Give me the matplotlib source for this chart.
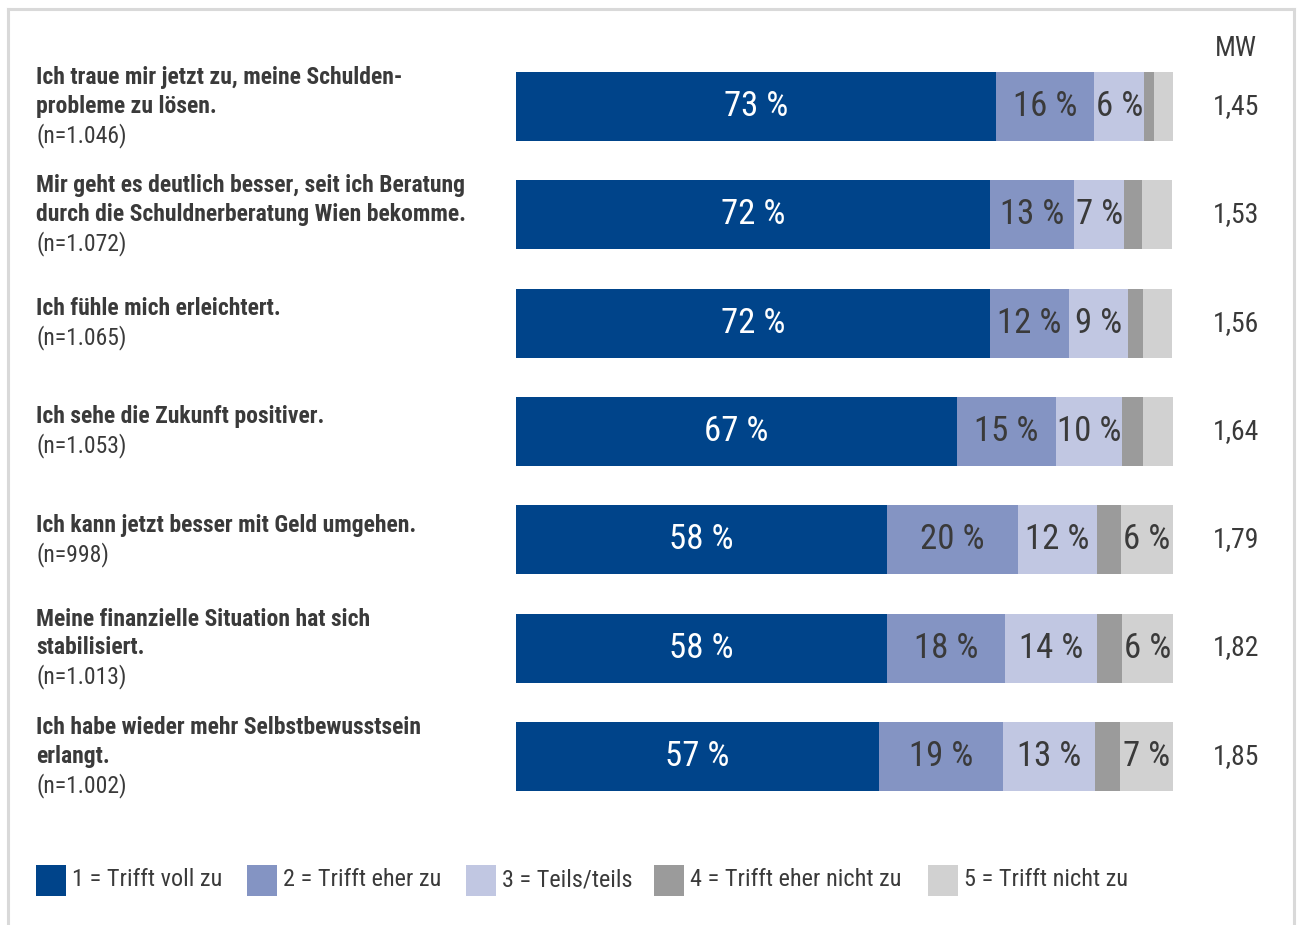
import matplotlib
matplotlib.use("Agg")
import matplotlib.pyplot as plt
from matplotlib.lines import Line2D
from matplotlib.patches import Rectangle

FONT = ['Roboto Condensed', 'Liberation Sans', 'DejaVu Sans']
plt.rcParams['font.family'] = FONT

# ---------------- data ----------------
statements = [
    ["Ich traue mir jetzt zu, meine Schulden-", "probleme zu lösen."],
    ["Mir geht es deutlich besser, seit ich Beratung", "durch die Schuldnerberatung Wien bekomme."],
    ["Ich fühle mich erleichtert."],
    ["Ich sehe die Zukunft positiver."],
    ["Ich kann jetzt besser mit Geld umgehen."],
    ["Meine finanzielle Situation hat sich", "stabilisiert."],
    ["Ich habe wieder mehr Selbstbewusstsein", "erlangt."],
]
n_values = ["1.046", "1.072", "1.065", "1.053", "998", "1.013", "1.002"]
mw = ["1,45", "1,53", "1,56", "1,64", "1,79", "1,82", "1,85"]

# segment shares as drawn (%)
trifft_voll = [73.1, 72.1, 72.1, 67.1, 56.5, 56.5, 55.3]
trifft_eher = [14.9, 12.9, 12.0, 15.1, 19.9, 18.0, 18.9]
teils = [7.6, 7.6, 9.0, 10.0, 12.0, 14.0, 13.9]
eher_nicht = [1.5, 2.7, 2.4, 3.2, 3.7, 3.7, 3.8]
nicht = [2.9, 4.6, 4.4, 4.6, 7.9, 7.9, 8.2]

# percentages printed in the segments (None = not printed)
lab_voll = [73, 72, 72, 67, 58, 58, 57]
lab_eher = [16, 13, 12, 15, 20, 18, 19]
lab_teils = [6, 7, 9, 10, 12, 14, 13]
lab_eher_nicht = [None] * 7
lab_nicht = [None, None, None, None, 6, 6, 7]

legend_labels = ["1 = Trifft voll zu", "2 = Trifft eher zu", "3 = Teils/teils",
                 "4 = Trifft eher nicht zu", "5 = Trifft nicht zu"]
colors = ["#00448a", "#8494c3", "#c1c7e2", "#9b9b9b", "#d1d1d1"]
label_colors = ["white", "#3a3a3a", "#3a3a3a", "#3a3a3a", "#3a3a3a"]
TXT = "#3a3a3a"

# ---------------- figure ----------------
W, H = 1300, 925
fig = plt.figure(figsize=(W / 100, H / 100), dpi=100)


def fx(x):
    return x / W


def fy(y):
    return 1 - y / H


# frame
for (x0, y0, x1, y1) in [(8, 9, 1294, 9), (8, 9, 8, 925), (1294, 9, 1294, 925)]:
    fig.add_artist(Line2D([fx(x0), fx(x1)], [fy(y0), fy(y1)], color="#d9d9d9",
                          lw=2.2, transform=fig.transFigure))

# bars axes
row_gap = 108.3
first_center = 106.5
n_rows = len(trifft_voll)
ax_top = first_center - row_gap / 2
ax_bot = first_center + row_gap * (n_rows - 0.5)
bar_l, bar_r = 516, 1173
ax = fig.add_axes([fx(bar_l), fy(ax_bot), (bar_r - bar_l) / W, (ax_bot - ax_top) / H])
ax.set_xlim(0, 100)
ax.set_ylim(n_rows - 0.5, -0.5)
ax.axis('off')

series = [trifft_voll, trifft_eher, teils, eher_nicht, nicht]
labels = [lab_voll, lab_eher, lab_teils, lab_eher_nicht, lab_nicht]
ys = list(range(n_rows))
left = [0] * n_rows
bar_h = 69 / row_gap
for si, vals in enumerate(series):
    ax.barh(ys, vals, left=left, height=bar_h, color=colors[si], linewidth=0)
    for i, v in enumerate(vals):
        lab = labels[si][i]
        if lab is not None:
            ax.text(left[i] + v / 2, i, f"{lab} %", ha='center', va='center',
                    fontsize=25, color=label_colors[si])
    left = [l + v for l, v in zip(left, vals)]

# statement labels
line_h = 29
for i, lines in enumerate(statements):
    all_lines = lines + [f"(n={n_values[i]})"]
    cy = first_center + i * row_gap
    N = len(all_lines)
    for k, t in enumerate(all_lines):
        y = cy + (k - (N - 1) / 2) * line_h
        bold = k < N - 1
        fig.text(fx(36), fy(y), t, ha='left', va='center', fontsize=17,
                 fontweight='bold' if bold else 'normal', color=TXT)
    fig.text(fx(1236), fy(cy), mw[i], ha='center', va='center', fontsize=20, color=TXT)

fig.text(fx(1236), fy(48), "MW", ha='center', va='center', fontsize=20, color=TXT)

# legend
leg_x = [36, 247, 466, 654, 928]
for x, lab, c in zip(leg_x, legend_labels, colors):
    fig.add_artist(Rectangle((fx(x), fy(896)), 30 / W, 31 / H, color=c, lw=0,
                             transform=fig.transFigure))
    fig.text(fx(x + 36), fy(880), lab, ha='left', va='center', fontsize=17.5, color=TXT)

fig.savefig("out.png", dpi=100)
